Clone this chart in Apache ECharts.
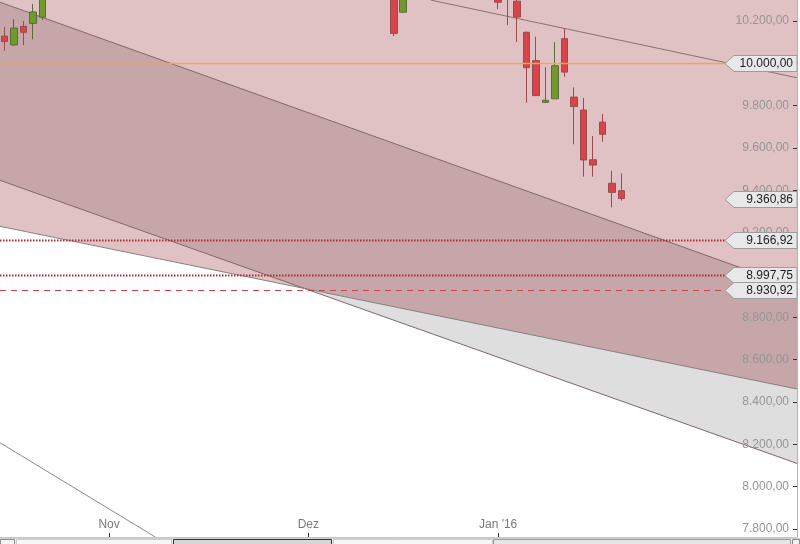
<!DOCTYPE html>
<html>
<head>
<meta charset="utf-8">
<script src="https://cdn.jsdelivr.net/npm/echarts@6/dist/echarts.min.js"></script>
<style>html,body{margin:0;padding:0;background:#fff}#c{width:800px;height:544px}</style>
</head>
<body>
<div id="c"></div>
<script>
// ---- categories (trading days) ----
const dates = [
 '2015-10-16',
 '2015-10-19','2015-10-20','2015-10-21','2015-10-22','2015-10-23',
 '2015-10-26','2015-10-27','2015-10-28','2015-10-29','2015-10-30',
 '2015-11-02','2015-11-03','2015-11-04','2015-11-05','2015-11-06',
 '2015-11-09','2015-11-10','2015-11-11','2015-11-12','2015-11-13',
 '2015-11-16','2015-11-17','2015-11-18','2015-11-19','2015-11-20',
 '2015-11-23','2015-11-24','2015-11-25','2015-11-26','2015-11-27',
 '2015-11-30',
 '2015-12-01','2015-12-02','2015-12-03','2015-12-04',
 '2015-12-07','2015-12-08','2015-12-09','2015-12-10','2015-12-11',
 '2015-12-14','2015-12-15','2015-12-16','2015-12-17','2015-12-18',
 '2015-12-21','2015-12-22','2015-12-23',
 '2015-12-28','2015-12-29','2015-12-30',
 '2016-01-04','2016-01-05','2016-01-06','2016-01-07','2016-01-08',
 '2016-01-11','2016-01-12','2016-01-13','2016-01-14','2016-01-15',
 '2016-01-18','2016-01-19','2016-01-20','2016-01-21','2016-01-22',
 '2016-01-25','2016-01-26','2016-01-27','2016-01-28','2016-01-29',
 '2016-02-01','2016-02-02','2016-02-03','2016-02-04','2016-02-05',
 '2016-02-08','2016-02-09','2016-02-10','2016-02-11','2016-02-12',
 '2016-02-15','2016-02-16'
];
const monthLabels = { '2015-11-02': 'Nov', '2015-12-01': 'Dez', '2016-01-04': "Jan '16" };

// ---- candles (null = outside the visible price range) ----
// rows: Oct16-22 | Oct23 | Oct26-30 | Nov2-6 | Nov9-13 | Nov16-20 | Nov23-27 | Nov30 | Dec1-4 | Dec7-11 | Dec14-15 | Dec16-18 | Dec21-23 | Dec28-30 | Jan4-8 | Jan11-15 | Jan18-21
const N = null;
const opens  = [10128,10086,10174,10188,10217, N, N,N,N,N,N, N,N,N,N,N, N,N,N,N,N, N,N,N,N,N, N,N,N,N,N, N, N,N,N,N, N,N,N,N,N,
  10360,10241, N,N,N, N,N,N, N,N,N,
  10480,10330,10293,10146,10012, 9815,9832,10116,9840,9779, 9544,9722,9433,9398];
const closes = [10103,10166,10146,10242,10490, N, N,N,N,N,N, N,N,N,N,N, N,N,N,N,N, N,N,N,N,N, N,N,N,N,N, N, N,N,N,N, N,N,N,N,N,
  10141,10450, N,N,N, N,N,N, N,N,N,
  10288,10310,10218,9979,9847, 9825,9988,9958,9795,9543, 9519,9664,9390,9360.86];
const lows   = [10059,10080,10086,10113,10204, N, N,N,N,N,N, N,N,N,N,N, N,N,N,N,N, N,N,N,N,N, N,N,N,N,N, N, N,N,N,N, N,N,N,N,N,
  10128,10238, N,N,N, N,N,N, N,N,N,
  10256,10180,10100,9813,9845, 9812,9832,9936,9617,9464, 9464,9629,9319,9351];
const highs  = [10172,10208,10199,10280,10500, N, N,N,N,N,N, N,N,N,N,N, N,N,N,N,N, N,N,N,N,N, N,N,N,N,N, N, N,N,N,N, N,N,N,N,N,
  10400,10480, N,N,N, N,N,N, N,N,N,
  10490,10390,10310,10150,10125, 9981,10099,10165,9886,9836, 9656,9760,9492,9480];

// ---- trend channels: values at the two anchor dates ----
const trendDates      = ['2015-10-16', '2016-02-16'];
const channelATop     = [10280, 8947];
const channelABottom  = [9439, 8118];
const channelBTop     = [10725, 9936];
const channelBBottom  = [9225, 8466];
const steepLineDates  = ['2015-10-16', '2015-11-13'];
const steepLine       = [8194, 7650];

// ---- horizontal levels ----
const levelValues = [10000, closes[closes.length - 1], 9166.92, 8997.75, 8930.92];

// ---- y axis ----
const yTicks = [7800, 8000, 8200, 8400, 8600, 8800, 9000, 9200, 9400, 9600, 9800, 10000, 10200];
const Y_MIN = 7762.5, Y_MAX = 10298.5;

// ---- styles ----
const levelLineStyles = [
  { stroke: '#e6ad45', lineWidth: 1.5 },
  null,
  { stroke: '#b02c31', lineWidth: 2, lineDash: [1.5, 1.5] },
  { stroke: '#b02c31', lineWidth: 2, lineDash: [1.5, 1.5] },
  { stroke: '#cc4247', lineWidth: 1.2, lineDash: [6, 5] }
];

function fmtDE(v) {
  const s = Math.abs(v).toFixed(2).split('.');
  const int = s[0].replace(/\B(?=(\d{3})+(?!\d))/g, '.');
  return (v < 0 ? '-' : '') + int + ',' + s[1];
}

function clipPoly(poly, f) {
  const out = [];
  for (let i = 0; i < poly.length; i++) {
    const a = poly[i], b = poly[(i + 1) % poly.length];
    const fa = f(a), fb = f(b);
    if (fa <= 0) out.push(a);
    if ((fa <= 0) !== (fb <= 0)) {
      const t = fa / (fa - fb);
      out.push([a[0] + (b[0] - a[0]) * t, a[1] + (b[1] - a[1]) * t]);
    }
  }
  return out;
}
function clipSeg(a, b, fs) {
  for (const f of fs) {
    const fa = f(a), fb = f(b);
    if (fa > 0 && fb > 0) return null;
    if (fa > 0) { const t = fa / (fa - fb); a = [a[0] + (b[0] - a[0]) * t, a[1] + (b[1] - a[1]) * t]; }
    else if (fb > 0) { const t = fa / (fa - fb); b = [a[0] + (b[0] - a[0]) * t, a[1] + (b[1] - a[1]) * t]; }
  }
  return [a, b];
}

function renderRegions(params, api) {
  const cs = params.coordSys;
  const L = cs.x, R = cs.x + cs.width, T = cs.y, B = cs.y + cs.height;
  const rectFs = [p => T - p[1], p => p[1] - B, p => L - p[0], p => p[0] - R];
  function lineFn(vals, d) {
    const a = api.coord([dates.indexOf(d[0]), vals[0]]);
    const b = api.coord([dates.indexOf(d[1]), vals[1]]);
    const k = (b[1] - a[1]) / (b[0] - a[0]);
    return x => a[1] + (x - a[0]) * k;
  }
  const a1 = lineFn(channelATop, trendDates), a3 = lineFn(channelABottom, trendDates);
  const b2 = lineFn(channelBTop, trendDates), b4 = lineFn(channelBBottom, trendDates);
  const s5 = lineFn(steepLine, steepLineDates);
  const clipRect = poly => rectFs.reduce((p, f) => clipPoly(p, f), poly);

  const pink = clipRect([[L, T], [R, T], [R, b4(R)], [L, b4(L)]]);
  const chanA = clipRect([[L, a1(L)], [R, a1(R)], [R, a3(R)], [L, a3(L)]]);
  const dark = clipPoly(chanA, p => p[1] - b4(p[0]));
  const grey = clipPoly(chanA, p => b4(p[0]) - p[1]);

  const children = [
    { type: 'polygon', shape: { points: pink }, style: { fill: '#e1c2c4' } },
    { type: 'polygon', shape: { points: grey }, style: { fill: '#dedede' } },
    { type: 'polygon', shape: { points: dark }, style: { fill: '#c6a6a8' } }
  ];
  const lines = [
    [a1, '#7d6869'], [a3, '#7d6869'], [b2, '#86726f'], [b4, '#858080']
  ];
  for (const [fn, col] of lines) {
    const seg = clipSeg([L, fn(L)], [R, fn(R)], rectFs);
    if (seg) children.push({ type: 'line', shape: { x1: seg[0][0], y1: seg[0][1], x2: seg[1][0], y2: seg[1][1] }, style: { stroke: col, lineWidth: 1 } });
  }
  const seg5 = clipSeg([L, s5(L)], [R, s5(R)], rectFs);
  if (seg5) children.push({ type: 'line', shape: { x1: seg5[0][0], y1: seg5[0][1], x2: seg5[1][0], y2: seg5[1][1] }, style: { stroke: '#8a8a8a', lineWidth: 1 } });
  return { type: 'group', children };
}

function renderLevel(params, api) {
  const cs = params.coordSys;
  const L = cs.x, R = cs.x + cs.width;
  const v = api.value(1);
  const y = Math.round(api.coord([0, v])[1]) + 0.5;
  const tipX = R - 72, bodyL = R - 63, h = 8;
  const children = [];
  const st = levelLineStyles[params.dataIndex];
  if (st) {
    children.push({ type: 'line', shape: { x1: L, y1: y, x2: tipX, y2: y }, style: Object.assign({ fill: null }, st) });
  }
  children.push({ type: 'polygon', shape: { points: [[tipX, y], [bodyL, y - h], [R, y - h], [R, y + h], [bodyL, y + h]] },
    style: { fill: '#e8e8e8', stroke: '#9c9c9c', lineWidth: 1 } });
  children.push({ type: 'text', x: R - 4, y: y, style: { text: fmtDE(v), fill: '#1c1c1c',
    font: '12px "Liberation Sans", Arial, sans-serif', align: 'right', verticalAlign: 'middle' } });
  return { type: 'group', children };
}

const candleData = opens.map((o, i) => o == null ? '-' : [o, closes[i], lows[i], highs[i]]);
const isMonthStart = (idx) => monthLabels[dates[idx]] !== undefined;

const chart = echarts.init(document.getElementById('c'), null, { renderer: 'canvas' });
chart.setOption({
  animation: false,
  backgroundColor: '#ffffff',
  grid: { left: -2, right: 3, top: 0, bottom: 7, containLabel: false },
  xAxis: {
    type: 'category', data: dates, boundaryGap: true, position: 'bottom', z: 2,
    axisLine: { show: true, lineStyle: { color: '#c4c4c4', width: 1 } },
    axisTick: { show: true, inside: true, length: 4, alignWithLabel: true,
      interval: (idx) => isMonthStart(idx), lineStyle: { color: '#333' } },
    axisLabel: { show: true, inside: true, margin: 6, interval: (idx) => isMonthStart(idx),
      formatter: (val) => monthLabels[val] || '', color: '#7a7a7a', fontSize: 12,
      fontFamily: '"Liberation Sans", Arial, sans-serif' },
    splitLine: { show: false }
  },
  yAxis: {
    type: 'value', position: 'right', min: Y_MIN, max: Y_MAX, scale: true, z: 2,
    axisLine: { show: true, lineStyle: { color: '#b4b4b4', width: 1 } },
    axisTick: { show: true, inside: true, length: 4, customValues: yTicks, lineStyle: { color: '#333' } },
    axisLabel: { show: true, inside: true, margin: 8, customValues: yTicks, formatter: (v) => fmtDE(v),
      color: '#959595', fontSize: 12, fontFamily: '"Liberation Sans", Arial, sans-serif' },
    splitLine: { show: false }
  },
  series: [
    { type: 'custom', name: 'channels', z: 1, silent: true, renderItem: renderRegions, data: [[0, 9000]] },
    { type: 'candlestick', name: 'DAX', z: 3, barWidth: 7, data: candleData,
      itemStyle: { color: '#6f9a2e', color0: '#d8444a', borderColor: '#5f6a3c', borderColor0: '#9c4a4c', borderWidth: 1 } },
    { type: 'custom', name: 'levels', z: 4, silent: true, renderItem: renderLevel,
      data: levelValues.map(v => [0, v]) }
  ],
  graphic: [
    { type: 'rect', z: 10, shape: { x: 0, y: 538, width: 800, height: 6 }, style: { fill: '#efefef', stroke: null } },
    { type: 'line', z: 11, shape: { x1: 0, y1: 538.5, x2: 800, y2: 538.5 }, style: { stroke: '#d0d0d0' } },
    { type: 'rect', z: 11, shape: { x: 0.5, y: 539.5, width: 14, height: 6 }, style: { fill: '#f4f4f4', stroke: '#8c8c8c' } },
    { type: 'rect', z: 11, shape: { x: 16.5, y: 539.5, width: 155, height: 6 }, style: { fill: '#f7f7f7', stroke: '#c8c8c8' } },
    { type: 'rect', z: 11, shape: { x: 173.5, y: 539.5, width: 158, height: 6 }, style: { fill: '#d6d6d6', stroke: '#333333' } },
    { type: 'rect', z: 11, shape: { x: 333.5, y: 539.5, width: 159, height: 6 }, style: { fill: '#f7f7f7', stroke: '#c8c8c8' } },
    { type: 'rect', z: 11, shape: { x: 493.5, y: 539.5, width: 297, height: 6 }, style: { fill: '#e6e6e6', stroke: '#9a9a9a' } },
    { type: 'rect', z: 11, shape: { x: 792.5, y: 539.5, width: 7, height: 6 }, style: { fill: '#f2f2f2', stroke: '#8c8c8c' } }
  ]
});
</script>
</body>
</html>
